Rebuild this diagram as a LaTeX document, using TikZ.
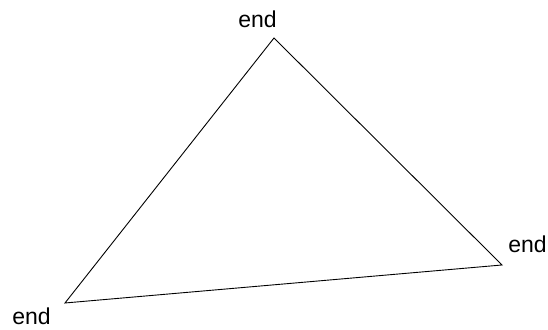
\documentclass[tikz,border=0pt]{standalone}
\usepackage{fontspec}
\setmainfont{Liberation Sans}
\tikzset{
  endlabel/.style = {inner sep=0pt,anchor=base west,font=\fontsize{11.5}{13}\selectfont},
  edgeline/.style = {line width=0.45pt,black}
}
\begin{document}
\begin{tikzpicture}[x=0.5pt,y=-0.5pt]
  \useasboundingbox (0,0) rectangle (548,330);
  \coordinate (top)   at (274,38);
  \coordinate (right) at (502,265);
  \coordinate (left)  at (65,303);
  \draw[edgeline] (top) -- (right) -- (left) -- cycle;
  \node[endlabel] (toplbl)   at (238,28)  {end};
  \node[endlabel] (rightlbl) at (508,253) {end};
  \node[endlabel] (leftlbl)  at (12,325)  {end};
\end{tikzpicture}
\end{document}
